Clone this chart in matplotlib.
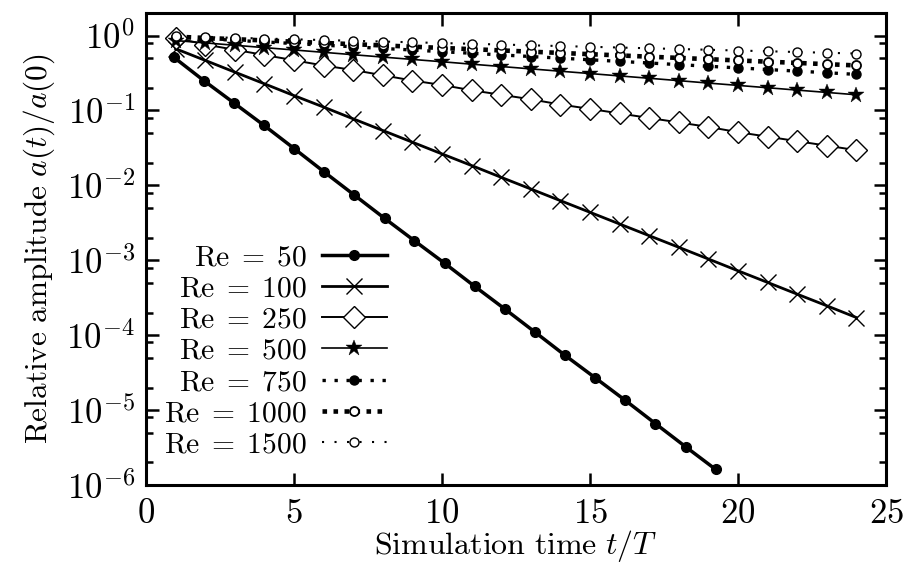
import matplotlib
matplotlib.use("Agg")
import matplotlib.pyplot as plt
from matplotlib.ticker import LogLocator, FixedLocator, FixedFormatter, NullFormatter

plt.rcParams['mathtext.fontset'] = 'cm'
plt.rcParams['font.family'] = ['DejaVu Serif']

# ---- data ----
t50 = [0.94, 1.95, 2.97, 3.99, 5.01, 6.02, 7.04, 8.06, 9.07, 10.09, 11.11, 12.12,
       13.14, 14.16, 15.18, 16.19, 17.21, 18.23, 19.24]
a50 = [0.513, 0.251, 0.126, 0.0631, 0.0309, 0.0151, 0.00741, 0.00363, 0.00182,
       0.000912, 0.000447, 0.000224, 0.000110, 5.37e-5, 2.69e-5, 1.35e-5, 6.6e-6,
       3.24e-6, 1.62e-6]

t_n = list(range(1, 25))
a100 = [0.667, 0.466, 0.325, 0.227, 0.158, 0.111, 0.0773, 0.0540, 0.0377, 0.0263,
        0.0184, 0.0128, 0.00895, 0.00625, 0.00437, 0.00305, 0.00213, 0.00149,
        0.00104, 0.000724, 0.000506, 0.000353, 0.000247, 0.000172]
a250 = [0.933, 0.759, 0.646, 0.550, 0.468, 0.398, 0.347, 0.295, 0.251, 0.219, 0.186,
        0.162, 0.141, 0.120, 0.105, 0.0912, 0.0794, 0.0692, 0.0603, 0.0513, 0.0447,
        0.0389, 0.0339, 0.0295]
a500 = [0.857, 0.798, 0.742, 0.690, 0.642, 0.597, 0.555, 0.516, 0.480, 0.447, 0.415,
        0.386, 0.359, 0.334, 0.311, 0.289, 0.269, 0.250, 0.232, 0.216, 0.201, 0.187,
        0.174, 0.162]
a750 = [0.955, 0.908, 0.864, 0.822, 0.782, 0.744, 0.708, 0.673, 0.641, 0.609, 0.580,
        0.551, 0.525, 0.499, 0.475, 0.452, 0.430, 0.409, 0.389, 0.370, 0.352, 0.335,
        0.319, 0.303]
a1000 = [0.966, 0.929, 0.894, 0.861, 0.828, 0.797, 0.767, 0.738, 0.710, 0.683, 0.658,
         0.633, 0.609, 0.586, 0.564, 0.543, 0.522, 0.503, 0.484, 0.465, 0.448, 0.431,
         0.415, 0.399]
a1500 = [0.977, 0.955, 0.933, 0.912, 0.891, 0.871, 0.851, 0.832, 0.813, 0.794, 0.776,
         0.759, 0.741, 0.724, 0.708, 0.692, 0.676, 0.661, 0.646, 0.631, 0.617, 0.603,
         0.589, 0.575]

labels = [r'$\mathrm{Re}\;=\;50$', r'$\mathrm{Re}\;=\;100$', r'$\mathrm{Re}\;=\;250$',
          r'$\mathrm{Re}\;=\;500$', r'$\mathrm{Re}\;=\;750$', r'$\mathrm{Re}\;=\;1000$',
          r'$\mathrm{Re}\;=\;1500$']

xticks = [0, 5, 10, 15, 20, 25]
xticklabels = [r'$0$', r'$5$', r'$10$', r'$15$', r'$20$', r'$25$']
yticks = [1e-6, 1e-5, 1e-4, 1e-3, 1e-2, 1e-1, 1e0]
yticklabels = [r'$10^{-6}$', r'$10^{-5}$', r'$10^{-4}$', r'$10^{-3}$', r'$10^{-2}$',
               r'$10^{-1}$', r'$10^{0}$']

# ---- figure ----
fig = plt.figure(figsize=(9.07, 5.65), dpi=100)
ax = fig.add_axes([146/907, 80/565, 740/907, 472/565])

k = 'black'
ax.plot(t50, a50, color=k, lw=2.5, marker='o', ms=7, label=labels[0])
ax.plot(t_n, a100, color=k, lw=2.0, marker='x', ms=12, mew=1.0, label=labels[1])
ax.plot(t_n, a250, color=k, lw=1.4, marker='D', ms=11, mfc='white', mew=1.0, label=labels[2])
ax.plot(t_n, a500, color=k, lw=1.2, marker='*', ms=12, mew=0.3, label=labels[3])
ax.plot(t_n, a750, color=k, lw=2.4, ls=(0, (1, 2.6)), dash_capstyle='butt',
        marker='o', ms=6.5, label=labels[4])
ax.plot(t_n, a1000, color=k, lw=3.3, ls=(0, (1, 1.4)), dash_capstyle='butt',
        marker='o', ms=6.5, mfc='white', mew=1.3, label=labels[5])
ax.plot(t_n, a1500, color=k, lw=1.5, ls=(0, (1, 5)), dash_capstyle='butt',
        marker='o', ms=6.5, mfc='white', mew=1.0, label=labels[6])

ax.set_yscale('log')
ax.set_xlim(0, 25)
ax.set_ylim(1e-6, 2)
ax.xaxis.set_major_locator(FixedLocator(xticks))
ax.xaxis.set_major_formatter(FixedFormatter(xticklabels))
ax.yaxis.set_major_locator(FixedLocator(yticks))
ax.yaxis.set_major_formatter(FixedFormatter(yticklabels))
ax.yaxis.set_minor_locator(LogLocator(base=10, subs=[2, 5, 8], numticks=20))
ax.yaxis.set_minor_formatter(NullFormatter())

for s in ax.spines.values():
    s.set_linewidth(2.2)
ax.tick_params(which='both', direction='in', top=True, right=True, labelsize=25)
ax.tick_params(which='major', length=9, width=1.8, pad=8)
ax.tick_params(which='minor', length=5, width=1.8)

ax.set_xlabel(r'$\mathrm{Simulation\ time}\ t/T$', fontsize=23)
ax.set_ylabel(r'$\mathrm{Relative\ amplitude}\ a(t)/a(0)$', fontsize=22.5)
ax.xaxis.set_label_coords(0.5, -0.092)
ax.yaxis.set_label_coords(-0.12, 0.5)

leg = ax.legend(loc='upper right', bbox_to_anchor=(387/907, 322/565),
                bbox_transform=fig.transFigure, frameon=False, markerfirst=False,
                fontsize=21.3, handlelength=2.2, handletextpad=0.5,
                labelspacing=0.11, borderpad=0, borderaxespad=0)

fig.savefig('out.png', dpi=100)
